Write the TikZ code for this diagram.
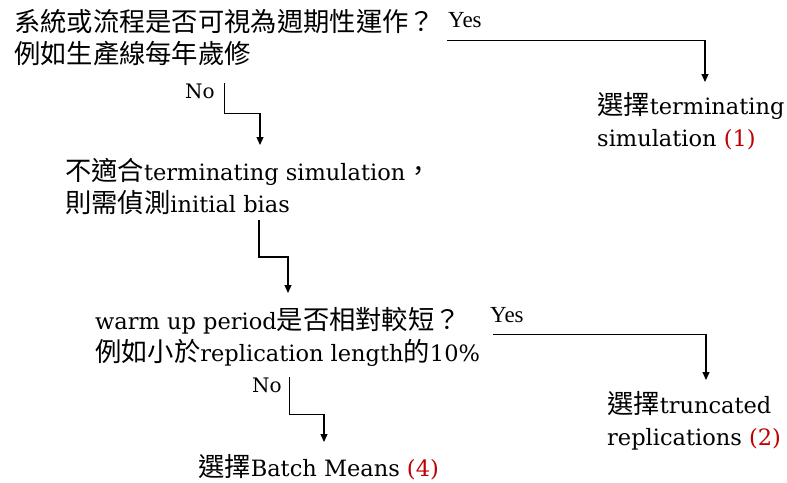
\documentclass[tikz,border=0pt]{standalone}
\usepackage{fontspec}
\setmainfont{DejaVu Serif}
\newfontfamily\cjk{Noto Sans CJK TC}
\newfontfamily\tnr{Liberation Serif}
\usepackage{tikz}
\usetikzlibrary{arrows.meta}

\definecolor{numred}{HTML}{C00000}
\newcommand{\zh}[1]{{\cjk\fontsize{26.3}{32}\selectfont #1}}
\newcommand{\num}[1]{\textcolor{numred}{#1}}

\tikzset{
  txt/.style={anchor=west,align=left,inner sep=0pt,font=\fontsize{22.5}{32}\selectfont},
  yeslbl/.style={anchor=west,inner sep=0pt,font=\tnr\fontsize{23}{24}\selectfont},
  nolbl/.style={anchor=west,inner sep=0pt,font=\fontsize{20}{24}\selectfont},
  flow/.style={line width=1.1pt,-{Triangle[width=7pt,length=8pt]}}
}

\begin{document}
\begin{tikzpicture}[x=1pt,y=-1pt]
  \useasboundingbox (0,0) rectangle (787,482);

  % questions and results
  \node[txt] (q1) at (14,38) {\zh{系統或流程是否可視為週期性運作？}\\\zh{例如生產線每年歲修}};
  \node[txt] (t1) at (597,121.5) {\zh{選擇}terminating\\simulation \num{(1)}};
  \node[txt] (q2) at (65,186.5) {\zh{不適合}terminating simulation\zh{，}\\\zh{則需偵測}initial bias};
  \node[txt] (q3) at (95,336.5) {warm up period\zh{是否相對較短？}\\\zh{例如小於}replication length\zh{的}10\%};
  \node[txt] (t2) at (607,421) {\zh{選擇}truncated\\replications \num{(2)}};
  \node[txt] (t3) at (198,467) {\zh{選擇}Batch Means \num{(4)}};

  % branch labels
  \node[yeslbl] (yes1) at (448,20) {Yes};
  \node[nolbl] (no1) at (185,91) {No};
  \node[yeslbl] (yes2) at (490,315) {Yes};
  \node[nolbl] (no2) at (252,385) {No};

  % arrow tips
  \coordinate (tip1) at (705,82);
  \coordinate (tip2) at (260,145);
  \coordinate (m0) at (259,220);
  \coordinate (tip3) at (288,293);
  \coordinate (tip4) at (706,380);
  \coordinate (tip5) at (324,442);

  \draw[flow] ([xshift=-1pt,yshift=-13pt]yes1.south west) -| (tip1);
  \draw[flow] ([xshift=10pt]no1.north east) -- ++(0,30) -| (tip2);
  \draw[flow] (m0) -- ++(0,37) -| (tip3);
  \draw[flow] ([xshift=3pt,yshift=-12pt]yes2.south west) -| (tip4);
  \draw[flow] ([xshift=8pt]no2.north east) -- ++(0,37) -| (tip5);
\end{tikzpicture}
\end{document}
